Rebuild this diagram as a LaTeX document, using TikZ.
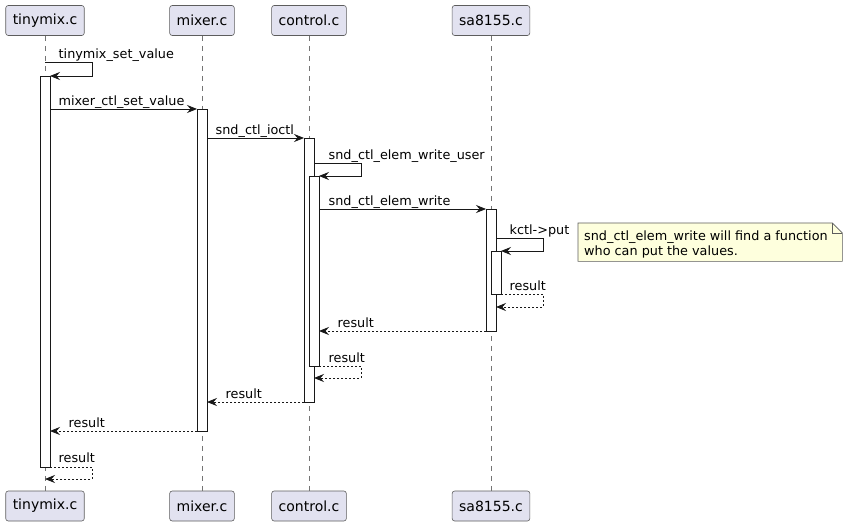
\documentclass[tikz,border=0pt]{standalone}
\usepackage{fontspec}
\setmainfont{DejaVu Sans}
\usetikzlibrary{arrows.meta, calc}
\definecolor{partfill}{HTML}{E2E2F0}
\definecolor{notefill}{HTML}{FEFFDD}
\definecolor{umlline}{HTML}{181818}

\begin{document}
\begin{tikzpicture}[x=1pt, y=-1pt,
    part/.style={draw=umlline!70, fill=partfill, rounded corners=2.5pt, line width=0.6pt,
                 minimum height=30pt, inner xsep=7pt, font=\fontsize{14}{16}\selectfont},
    lifeline/.style={draw=umlline!60, line width=0.6pt, dash pattern=on 5pt off 5pt},
    actbar/.style={draw=umlline, fill=white, line width=0.8pt, minimum width=10pt,
                   inner sep=0pt, outer sep=0pt, anchor=north},
    call/.style={draw=umlline, line width=0.8pt, -{Stealth[length=10pt, width=8pt, inset=3.5pt]}},
    reply/.style={call, dash pattern=on 2pt off 2pt},
    msg/.style={anchor=south west, inner sep=0.5pt, text height=10pt, text depth=3pt,
                font=\fontsize{12.8}{15}\selectfont},
    notebox/.style={draw=umlline!70, fill=notefill, line width=0.6pt}]
    \useasboundingbox (0,0) rectangle (848,526);
    % Participantes (topo e base)
    \node[part] (tinyT) at (45,20.5) {tinymix.c};
    \node[part] (mixT)  at (202,20.5) {mixer.c};
    \node[part] (ctlT)  at (309,20.5) {control.c};
    \node[part] (saT)   at (491,20.5) {sa8155.c};
    \node[part] (tinyB) at (45,506) {tinymix.c};
    \node[part] (mixB)  at (202,506) {mixer.c};
    \node[part] (ctlB)  at (309,506) {control.c};
    \node[part] (saB)   at (491,506) {sa8155.c};
    % Linhas de vida
    \foreach \p in {tiny, mix, ctl, sa}
      \draw[lifeline] (\p T) -- (\p B);
    % Barras de ativação
    \node[actbar, minimum height=391pt] (tmbar) at (45,76) {};
    \node[actbar, minimum height=322pt] (mxbar) at (202,109) {};
    \node[actbar, minimum height=264pt] (ctbar) at (309,138) {};
    \node[actbar, minimum height=190pt] (ctsub) at (314,176) {};
    \node[actbar, minimum height=122pt] (sabar) at (491,209) {};
    \node[actbar, minimum height=43pt]  (sasub) at (496,251) {};
    % Chamadas
    \coordinate (s1) at (45,62);
    \draw[call] (s1) -- ++(47,0) |- (tmbar.north east);
    \node[msg] (m1) at (58,62) {tinymix\_set\_value};
    \draw[call] (tmbar.east |- mxbar.north) -- (mxbar.north west);
    \node[msg] (m2) at (58,109) {mixer\_ctl\_set\_value};
    \draw[call] (mxbar.east |- ctbar.north) -- (ctbar.north west);
    \node[msg] (m3) at (215,138) {snd\_ctl\_ioctl};
    \coordinate (s4) at (ctbar.east |- 0,163);
    \draw[call] (s4) -- ++(47,0) |- (ctsub.north east);
    \node[msg] (m4) at (328,163) {snd\_ctl\_elem\_write\_user};
    \draw[call] (ctsub.east |- sabar.north) -- (sabar.north west);
    \node[msg] (m5) at (328,209) {snd\_ctl\_elem\_write};
    \coordinate (s6) at (sabar.east |- 0,238);
    \draw[call] (s6) -- ++(47,0) |- (sasub.north east);
    \node[msg] (m6) at (509,238) {kctl->put};
    % Retornos
    \coordinate (r7) at (sabar.east |- 0,307);
    \draw[reply] (sasub.south east) -- ++(42,0) |- (r7);
    \node[msg] (m7) at (509,294) {result};
    \draw[reply] (sabar.south west) -- (ctsub.east |- sabar.south);
    \node[msg] (m8) at (337,331) {result};
    \coordinate (r9) at (ctbar.east |- 0,378);
    \draw[reply] (ctsub.south east) -- ++(42,0) |- (r9);
    \node[msg] (m9) at (328,366) {result};
    \draw[reply] (ctbar.south west) -- (mxbar.east |- ctbar.south);
    \node[msg] (m10) at (225,402) {result};
    \draw[reply] (mxbar.south west) -- (tmbar.east |- mxbar.south);
    \node[msg] (m11) at (68,431) {result};
    \coordinate (r12) at (45,479);
    \draw[reply] (tmbar.south east) -- ++(42,0) |- (r12);
    \node[msg] (m12) at (58,466) {result};
    % Nota
    \node[minimum width=264pt, minimum height=38pt, inner sep=0pt, anchor=north west] (note) at (578,223) {};
    \draw[notebox] (note.north west) -- ([xshift=-10pt]note.north east)
      -- ([yshift=-10pt]note.north east) -- (note.south east) -- (note.south west) -- cycle;
    \draw[notebox, fill=none] ([xshift=-10pt]note.north east) |- ([yshift=-10pt]note.north east);
    \node[anchor=north west, inner sep=0pt, align=left, font=\fontsize{12.8}{15}\selectfont]
      (notetxt) at (584,230.5) {snd\_ctl\_elem\_write will find a function\\who can put the values.};
\end{tikzpicture}
\end{document}
